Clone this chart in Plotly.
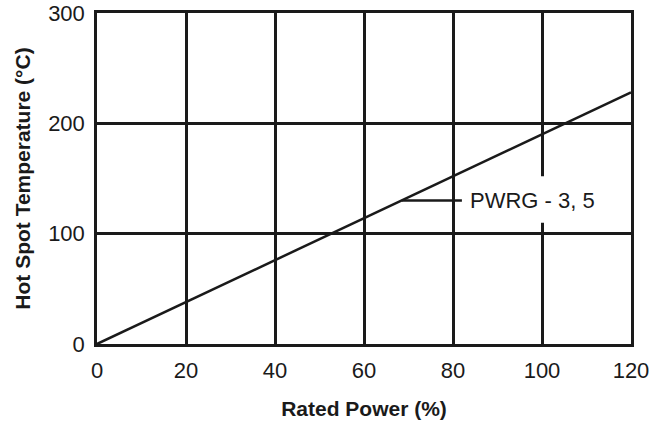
import plotly.graph_objects as go

power_pct = [0, 120]
hot_spot_c = [0, 228]
series_label = "PWRG - 3, 5"
x_ticks = [0, 20, 40, 60, 80, 100, 120]
y_ticks = [0, 100, 200, 300]

slope = hot_spot_c[1] / power_pct[1]
leader_x0 = 68.5
leader_x1 = 82
leader_y = slope * leader_x0

FONT = "Liberation Sans, Arial, Helvetica"
INK = "#1a1a1a"

fig = go.Figure()
fig.add_trace(go.Scatter(x=power_pct, y=hot_spot_c, mode="lines",
                         line=dict(color=INK, width=2.5), showlegend=False,
                         hoverinfo="skip", cliponaxis=False))

fig.add_shape(type="line", x0=leader_x0, x1=leader_x1, y0=leader_y, y1=leader_y,
              line=dict(color=INK, width=2.5), layer="above")
fig.add_shape(type="rect", x0=97, x1=103, y0=110, y1=152,
              fillcolor="white", line=dict(width=0), layer="above")
fig.add_annotation(x=83.3, y=leader_y, text=series_label, showarrow=False,
                   xanchor="left", yanchor="middle",
                   font=dict(family=FONT, size=22, color=INK))

axis_common = dict(showgrid=True, gridcolor=INK, gridwidth=2.5, automargin=False,
                   showline=True, linecolor=INK, linewidth=2.5, mirror=True,
                   zeroline=False, ticks="outside", ticklen=5, tickcolor="rgba(0,0,0,0)",
                   ticklabeloverflow="allow",
                   tickfont=dict(family=FONT, size=22, color=INK))

fig.update_xaxes(range=[0, 120], tickvals=x_ticks, **axis_common,
                 title=dict(text="<b>Rated Power (%)</b>", standoff=20,
                            font=dict(family=FONT, size=21, color=INK)))
fig.update_yaxes(range=[0, 300], tickvals=y_ticks, **axis_common,
                 title=dict(text="<b>Hot Spot Temperature (°C)</b>", standoff=12,
                            font=dict(family=FONT, size=21, color=INK)))

fig.update_layout(template="none", width=652, height=431,
                  margin=dict(l=97, r=21, t=13, b=87),
                  plot_bgcolor="white", paper_bgcolor="white")

fig.write_html("out.html", config={"displayModeBar": False},
               post_script="document.body.style.margin='0';")
